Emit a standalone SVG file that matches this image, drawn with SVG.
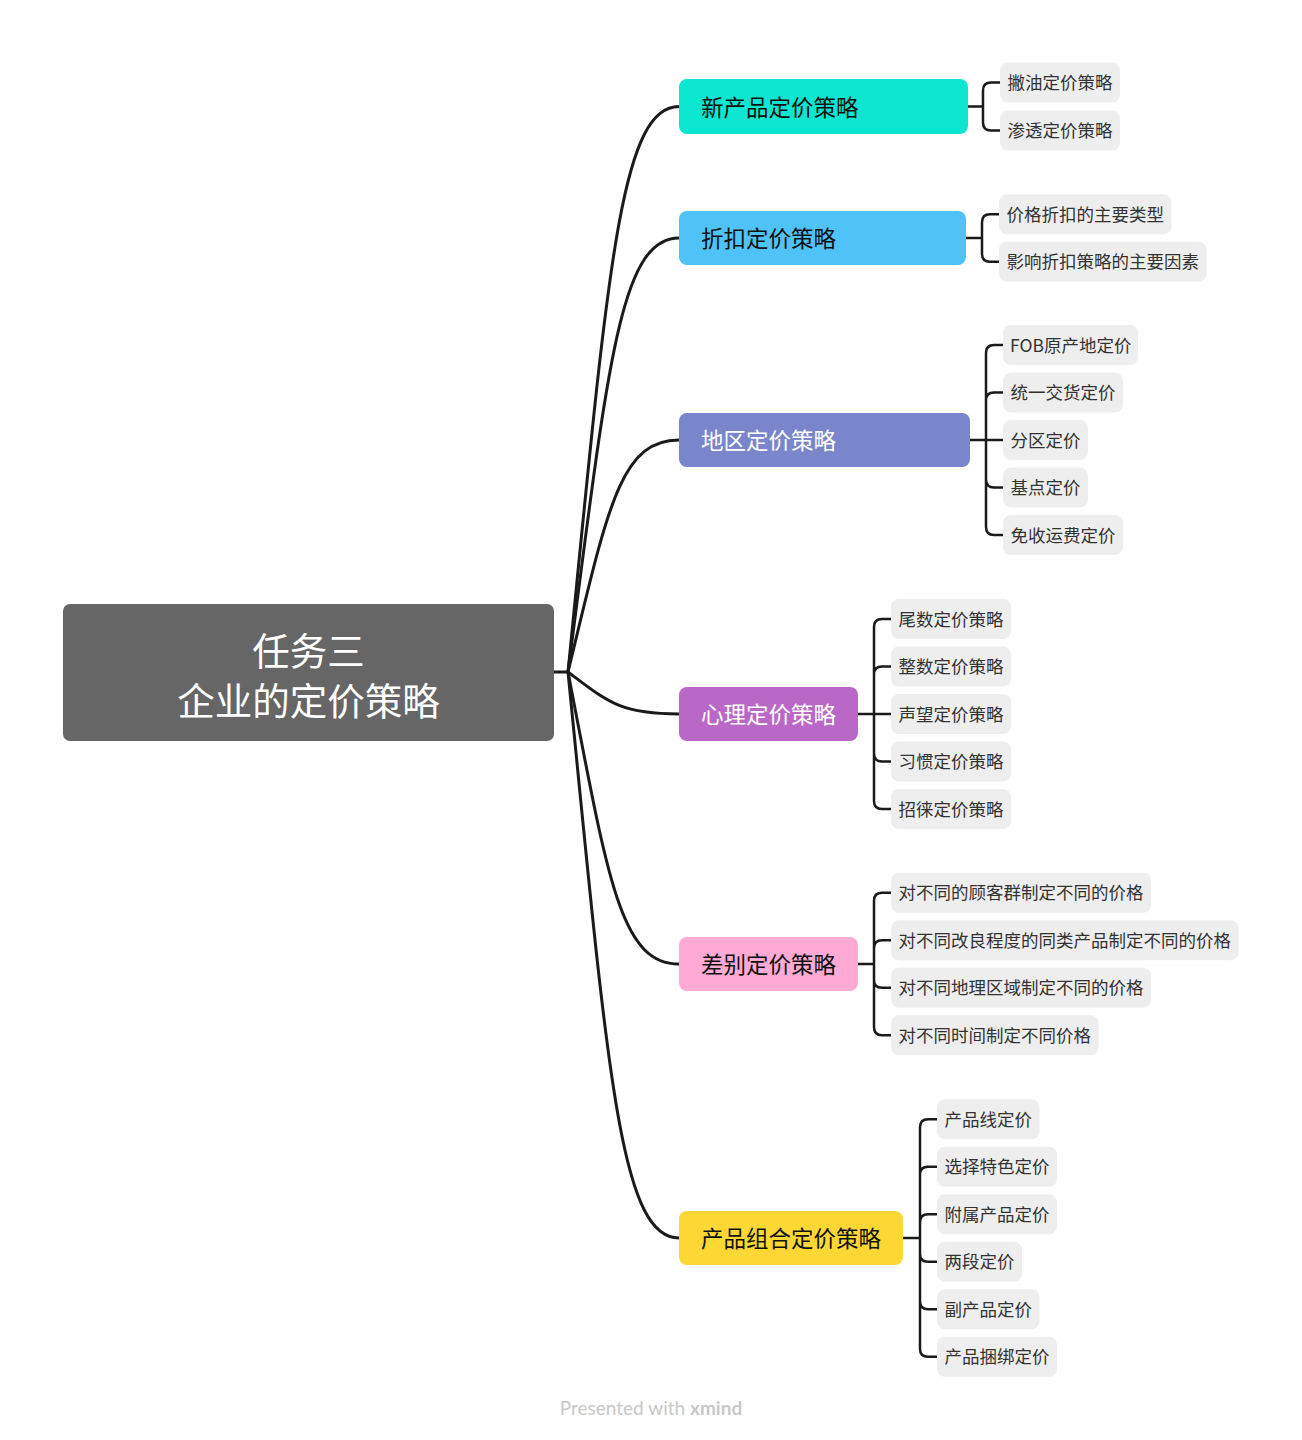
<svg xmlns="http://www.w3.org/2000/svg" width="1302" height="1440" viewBox="0 0 1302 1440">
<style>
.root{fill:#666666}
.rt{font-family:"Noto Sans CJK SC","Noto Sans",sans-serif;font-size:37.5px;fill:#ffffff;text-anchor:middle;dominant-baseline:central}
.bt{font-family:"Noto Sans CJK SC","Noto Sans",sans-serif;font-size:22.5px;dominant-baseline:central}
.leaf{fill:#eeeeee}
.lt{font-family:"Noto Sans CJK SC","Noto Sans",sans-serif;font-size:17.5px;fill:#333333;dominant-baseline:central}
.c{fill:none;stroke:#1a1a1a;stroke-width:3;stroke-linecap:round}
.b{fill:none;stroke:#1a1a1a;stroke-width:2.5;stroke-linecap:round}
.ft{font-family:Lato,"Open Sans",sans-serif;font-size:19px;fill:#c8c8c8;text-anchor:middle}
</style>
<rect width="1302" height="1440" fill="#ffffff"/>
<g id="connectors">
<path class="c" d="M554,672 H568"/>
<path class="c" d="M568,672 C608,270 620,106.5 679,106.5"/>
<path class="c" d="M568,672 C608,364 620,238 679,238"/>
<path class="c" d="M568,672 C608,507 620,440 679,440"/>
<path class="c" d="M568,672 C608,702 620,714 679,714"/>
<path class="c" d="M568,672 C608,879 620,964 679,964"/>
<path class="c" d="M568,672 C608,1074 620,1238 679,1238"/>
<path class="b" d="M968,106.5 H983 M983,106.5 V90.5 Q983,82.5 991,82.5 H1000 M983,106.5 V122.5 Q983,130.5 991,130.5 H1000"/>
<path class="b" d="M966,238 H982 M982,238 V222.25 Q982,214.25 990,214.25 H999 M982,238 V253.75 Q982,261.75 990,261.75 H999"/>
<path class="b" d="M970,440 H1003 M986,440 V353 Q986,345 994,345 H1003 M986,440 V400.5 Q986,392.5 994,392.5 H1003 M986,440 V479.5 Q986,487.5 994,487.5 H1003 M986,440 V527 Q986,535 994,535 H1003"/>
<path class="b" d="M858,714 H891 M874,714 V627 Q874,619 882,619 H891 M874,714 V674.5 Q874,666.5 882,666.5 H891 M874,714 V753.5 Q874,761.5 882,761.5 H891 M874,714 V801 Q874,809 882,809 H891"/>
<path class="b" d="M858,964 H874 M874,964 V900.75 Q874,892.75 882,892.75 H891 M874,964 V948.25 Q874,940.25 882,940.25 H891 M874,964 V979.75 Q874,987.75 882,987.75 H891 M874,964 V1027.25 Q874,1035.25 882,1035.25 H891"/>
<path class="b" d="M903,1238 H920 M920,1238 V1127.25 Q920,1119.25 928,1119.25 H937 M920,1238 V1174.75 Q920,1166.75 928,1166.75 H937 M920,1238 V1222.25 Q920,1214.25 928,1214.25 H937 M920,1238 V1253.75 Q920,1261.75 928,1261.75 H937 M920,1238 V1301.25 Q920,1309.25 928,1309.25 H937 M920,1238 V1348.75 Q920,1356.75 928,1356.75 H937"/>
</g>
<g id="root">
<rect class="root" x="63" y="604" width="491" height="137" rx="7"/>
<text class="rt" x="308.5" y="648">任务三</text>
<text class="rt" x="308.5" y="698">企业的定价策略</text>
</g>
<g id="b1">
<rect x="679" y="79" width="289" height="55" rx="8" fill="#0ce6d0"/>
<text class="bt" x="701" y="105.5" fill="#111111">新产品定价策略</text>
</g>
<g id="b1-1"><rect class="leaf" x="1000" y="62.5" width="120" height="40" rx="8"/><text class="lt" x="1007.5" y="81.5">撇油定价策略</text></g>
<g id="b1-2"><rect class="leaf" x="1000" y="110.5" width="120" height="40" rx="8"/><text class="lt" x="1007.5" y="129.5">渗透定价策略</text></g>
<g id="b2">
<rect x="679" y="211" width="287" height="54" rx="8" fill="#4fc3f7"/>
<text class="bt" x="701" y="237" fill="#111111">折扣定价策略</text>
</g>
<g id="b2-1"><rect class="leaf" x="999" y="194.25" width="172.5" height="40" rx="8"/><text class="lt" x="1006.5" y="213.25">价格折扣的主要类型</text></g>
<g id="b2-2"><rect class="leaf" x="999" y="241.75" width="207.5" height="40" rx="8"/><text class="lt" x="1006.5" y="260.75">影响折扣策略的主要因素</text></g>
<g id="b3">
<rect x="679" y="413" width="291" height="54" rx="8" fill="#7986cb"/>
<text class="bt" x="701" y="439" fill="#ffffff">地区定价策略</text>
</g>
<g id="b3-1"><rect class="leaf" x="1003" y="325" width="135" height="40" rx="8"/><text class="lt" x="1010" y="344">FOB原产地定价</text></g>
<g id="b3-2"><rect class="leaf" x="1003" y="372.5" width="120" height="40" rx="8"/><text class="lt" x="1010.5" y="391.5">统一交货定价</text></g>
<g id="b3-3"><rect class="leaf" x="1003" y="420" width="85" height="40" rx="8"/><text class="lt" x="1010.5" y="439">分区定价</text></g>
<g id="b3-4"><rect class="leaf" x="1003" y="467.5" width="85" height="40" rx="8"/><text class="lt" x="1010.5" y="486.5">基点定价</text></g>
<g id="b3-5"><rect class="leaf" x="1003" y="515" width="120" height="40" rx="8"/><text class="lt" x="1010.5" y="534">免收运费定价</text></g>
<g id="b4">
<rect x="679" y="687" width="179" height="54" rx="8" fill="#ba68c8"/>
<text class="bt" x="701" y="713" fill="#ffffff">心理定价策略</text>
</g>
<g id="b4-1"><rect class="leaf" x="891" y="599" width="120" height="40" rx="8"/><text class="lt" x="898.5" y="618">尾数定价策略</text></g>
<g id="b4-2"><rect class="leaf" x="891" y="646.5" width="120" height="40" rx="8"/><text class="lt" x="898.5" y="665.5">整数定价策略</text></g>
<g id="b4-3"><rect class="leaf" x="891" y="694" width="120" height="40" rx="8"/><text class="lt" x="898.5" y="713">声望定价策略</text></g>
<g id="b4-4"><rect class="leaf" x="891" y="741.5" width="120" height="40" rx="8"/><text class="lt" x="898.5" y="760.5">习惯定价策略</text></g>
<g id="b4-5"><rect class="leaf" x="891" y="789" width="120" height="40" rx="8"/><text class="lt" x="898.5" y="808">招徕定价策略</text></g>
<g id="b5">
<rect x="679" y="937" width="179" height="54" rx="8" fill="#ffaad5"/>
<text class="bt" x="701" y="963" fill="#111111">差别定价策略</text>
</g>
<g id="b5-1"><rect class="leaf" x="891" y="872.75" width="260" height="40" rx="8"/><text class="lt" x="898.5" y="891.75">对不同的顾客群制定不同的价格</text></g>
<g id="b5-2"><rect class="leaf" x="891" y="920.25" width="347.5" height="40" rx="8"/><text class="lt" x="898.5" y="939.25">对不同改良程度的同类产品制定不同的价格</text></g>
<g id="b5-3"><rect class="leaf" x="891" y="967.75" width="260" height="40" rx="8"/><text class="lt" x="898.5" y="986.75">对不同地理区域制定不同的价格</text></g>
<g id="b5-4"><rect class="leaf" x="891" y="1015.25" width="207.5" height="40" rx="8"/><text class="lt" x="898.5" y="1034.25">对不同时间制定不同价格</text></g>
<g id="b6">
<rect x="679" y="1211" width="224" height="54" rx="8" fill="#fdd835"/>
<text class="bt" x="701" y="1237" fill="#111111">产品组合定价策略</text>
</g>
<g id="b6-1"><rect class="leaf" x="937" y="1099.25" width="102.5" height="40" rx="8"/><text class="lt" x="944.5" y="1118.25">产品线定价</text></g>
<g id="b6-2"><rect class="leaf" x="937" y="1146.75" width="120" height="40" rx="8"/><text class="lt" x="944.5" y="1165.75">选择特色定价</text></g>
<g id="b6-3"><rect class="leaf" x="937" y="1194.25" width="120" height="40" rx="8"/><text class="lt" x="944.5" y="1213.25">附属产品定价</text></g>
<g id="b6-4"><rect class="leaf" x="937" y="1241.75" width="85" height="40" rx="8"/><text class="lt" x="944.5" y="1260.75">两段定价</text></g>
<g id="b6-5"><rect class="leaf" x="937" y="1289.25" width="102.5" height="40" rx="8"/><text class="lt" x="944.5" y="1308.25">副产品定价</text></g>
<g id="b6-6"><rect class="leaf" x="937" y="1336.75" width="120" height="40" rx="8"/><text class="lt" x="944.5" y="1355.75">产品捆绑定价</text></g>
<text class="ft" x="651" y="1415">Presented with <tspan font-weight="bold">xmind</tspan></text>
</svg>
